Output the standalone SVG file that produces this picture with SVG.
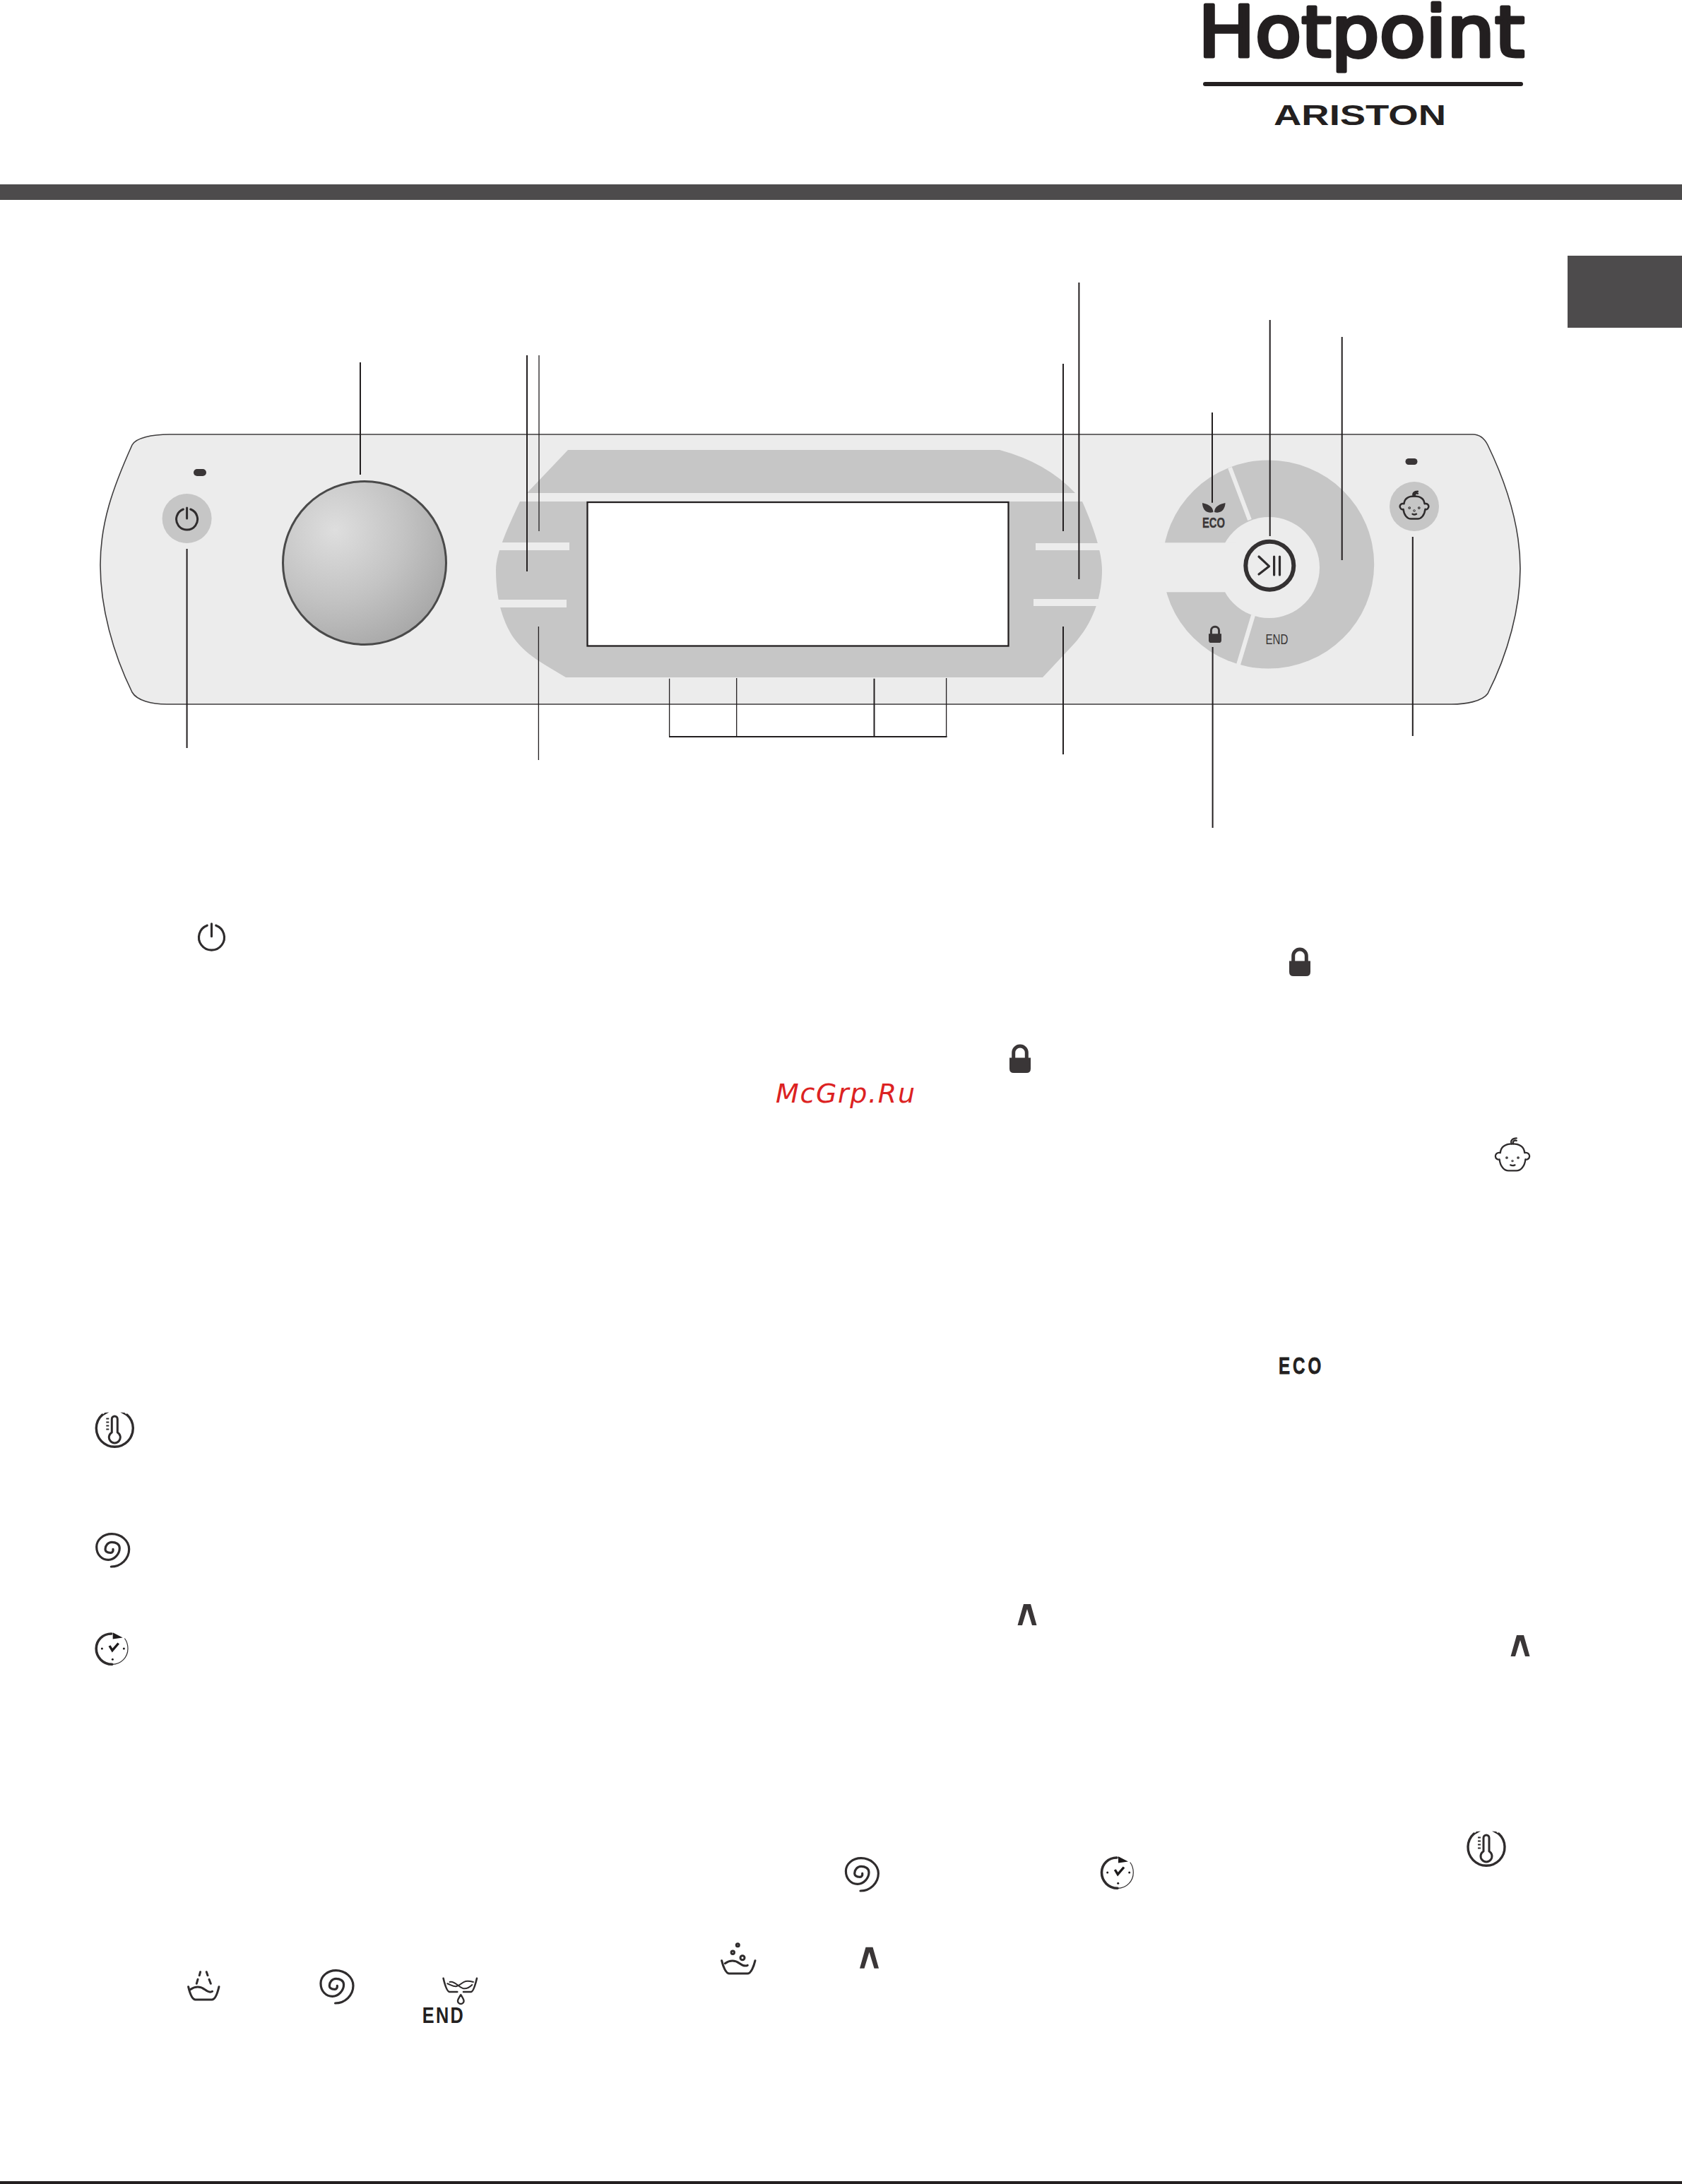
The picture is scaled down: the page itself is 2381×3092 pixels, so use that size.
<svg xmlns="http://www.w3.org/2000/svg" width="2381" height="3092" viewBox="0 0 2381 3092">
<style>
.lead{stroke:#231f20;stroke-width:2;fill:none}
.thin{stroke:#231f20;stroke-width:1.3;fill:none}
.ic{stroke:#2f2c2d;fill:none;stroke-linecap:round;stroke-linejoin:round}
.bar{fill:#ececec}
.grey{fill:#c6c6c6}
.dark{fill:#3a3637}
text{font-family:"Liberation Sans",Arial,sans-serif}
</style>
<defs>
<radialGradient id="knob" cx="0.32" cy="0.3" r="0.85"><stop offset="0" stop-color="#dedede"/><stop offset="0.5" stop-color="#c3c3c3"/><stop offset="1" stop-color="#a2a2a2"/></radialGradient>
<g id="spiral"><path class="ic" stroke-width="3.2" d="M-1.7 23C12 23 23.7 12 23.7-1.7C23.7-14 12-23.3-.7-23.3C-13-23.3-22.3-15-22.3-5C-22.3 6-15 13.3-5.7 13.3C3 13.3 10.3 5 10.3-3.3C10.3-9 5-11.7-.7-11.7C-6-11.7-10-7-10-1.7C-10 2-6 3.3-2.3 3.3C0 3.3 1.5 1 1-1.7"/></g>
<g id="clock"><path class="ic" stroke-width="3.6" d="M0 22.3C-13 22.3-22.5 12-22.5 0C-22.5-12-13-21-1-21"/><path class="ic" stroke-width="1.2" d="M0 22.3C13 22.3 22.3 12 22.3 0C22.3-5 21-10 18-14"/><polygon points="1,-22.7 15,-15.5 1,-13.5" fill="#1d1a1b"/><circle cx="-14.3" r="1.5" fill="#1d1a1b"/><circle cx="16.7" r="1.5" fill="#1d1a1b"/><circle cx="0.7" cy="15.3" r="1.5" fill="#1d1a1b"/><path d="M-3.7-4L.3 2.7L9-7.5" fill="none" stroke="#1d1a1b" stroke-width="3.4"/></g>
<g id="thermo"><path class="ic" stroke-width="3.4" d="M-17.5-21A26 26 0 1 0 17.5-21"/><polygon points="-21,-17 -14,-24 -8,-24.5" fill="#2f2c2d"/><polygon points="21,-17 14,-24 8,-24.5" fill="#2f2c2d"/><path class="ic" stroke-width="3" d="M-4 4V-15A4 4 0 0 1 4-15V4A8 8 0 1 1-4 4Z"/><path stroke="#2f2c2d" stroke-width="2.2" d="M-12-15.5h4M-12-10.5h4M-12-5.5h4M-12-.5h4" fill="none"/></g>
<g id="lock"><path d="M-9.3 0V-8.7A9.3 9.3 0 0 1 9.3-8.7V0" fill="none" stroke="#3a3637" stroke-width="5"/><path class="dark" d="M-15-1.4H15V14Q15 20 9 20H-9Q-15 20-15 14Z"/></g>
<polygon id="up" class="dark" points="-13.5,15 -5,-15 5,-15 13.5,15 7,15 0,-8 -7,15"/>
<path id="power" class="ic" d="M-5.2-14A15 15 0 1 0 5.2-14M0-16V-1"/>
<g id="baby" class="ic"><path d="M-15-6C-14-15-7-17 0-17C7-17 14-15 15-6C19-7 21-4 21-2C21 1 18 3 16 2C15 11 10 16 5 16H-5C-10 16-15 11-16 2C-18 3-21 1-21-2C-21-4-19-7-15-6Z"/><path d="M-1-17C-3-21 0-24 5-24M1-17C0-20 2-22 5-21"/><path d="M-2.5 9Q0 10.5 3 9"/><circle cx="-7" cy="0" r=".6"/><circle cx="7" cy="0" r=".6"/><circle cy="4" r=".5"/></g>
</defs>
<rect width="2381" height="3092" fill="#fff"/>
<g id="logo">
<text x="1696" y="79.5" font-size="100" textLength="462" lengthAdjust="spacingAndGlyphs" style="font-family:'DejaVu Sans',sans-serif" fill="#231f20" stroke="#231f20" stroke-width="5" stroke-linejoin="round">Hotpoint</text>
<rect x="1703" y="116" width="453" height="6" rx="3" fill="#231f20"/>
<text x="1803" y="177" font-size="40" font-weight="700" textLength="244" lengthAdjust="spacingAndGlyphs" fill="#231f20">ARISTON</text>
</g>
<rect id="top-bar" x="0" y="261" width="2381" height="22" fill="#4d4b4c"/>
<rect id="tab" x="2219" y="362" width="162" height="102" fill="#4d4b4c"/>
<rect id="bottom-line" x="0" y="3088" width="2381" height="4" fill="#231f20"/>
<g id="panel">
<path fill="#ececec" stroke="#3f3d3e" stroke-width="1.6" d="M240 615H2085C2095 615 2102 622 2106 630C2135 690 2152 750 2152 805C2152 860 2135 925 2106 982C2098 993 2075 997 2055 997H236C215 997 194 992 187 980C160 925 142 860 142 800C142 740 160 690 187 630C192 620 215 615 240 615Z"/>
</g>
<g id="power-button">
<rect x="274" y="664" width="18" height="10" rx="5" class="dark"/>
<circle cx="264.6" cy="734" r="35" class="grey"/>
<use href="#power" x="264.6" y="735" stroke-width="3"/>
</g>
<g id="knob-node"><circle cx="516" cy="797" r="115.5" fill="url(#knob)" stroke="#4a4a4a" stroke-width="3"/></g>
<g id="display">
<path class="grey" d="M804 637H1415Q1482 655 1522 698L1532 710C1550 750 1560 785 1560 807C1560 840 1550 880 1519 913L1476 959H801C770 940 745 928 727 903C715 885 702 855 702 807C702 785 715 755 736 710L746 698Z"/>
<rect class="bar" x="730" y="698" width="807" height="12"/>
<rect class="bar" x="700" y="768" width="106" height="11"/>
<rect class="bar" x="700" y="849" width="102" height="11"/>
<rect class="bar" x="1466" y="769" width="100" height="10"/>
<rect class="bar" x="1463" y="848" width="100" height="10"/>
<rect x="831.5" y="711" width="596" height="203.5" fill="#fff" stroke="#231f20" stroke-width="2.3"/>
</g>
<g id="wheel">
<ellipse cx="1795.5" cy="799" rx="149.7" ry="147.5" class="grey"/>
<circle cx="1796.5" cy="803.5" r="71.5" class="bar"/>
<rect class="bar" x="1640" y="768.3" width="110" height="70"/>
<path d="M1741 662L1769 736M1753 941L1774 871" stroke="#ececec" stroke-width="6" fill="none"/>
<circle cx="1797.3" cy="800.7" r="34" fill="#ececec" stroke="#343132" stroke-width="6"/>
<path class="ic" stroke-width="3.2" d="M1782 788L1796.5 801.7L1782 813M1803.6 788V814M1811.5 788V814"/>
<path class="dark" d="M1702 712C1709 714 1717 716 1717.5 725C1707 728 1702 720 1702 712ZM1734.5 712C1727 714 1719.5 716 1719 725C1729 728 1734.5 720 1734.5 712Z"/>
<text x="1702" y="746.5" font-size="21" font-weight="700" textLength="32" lengthAdjust="spacingAndGlyphs" fill="#3a3637" stroke="#3a3637" stroke-width=".4">ECO</text>
<text x="1791.5" y="912" font-size="21" textLength="32" lengthAdjust="spacingAndGlyphs" fill="#3a3637">END</text>
<use href="#lock" transform="translate(1720,898) scale(.6)"/>
</g>
<g id="baby-button">
<rect x="1989.5" y="649" width="17" height="9" rx="4.5" class="dark"/>
<circle cx="2002" cy="717" r="35" class="grey"/>
<use href="#baby" transform="translate(2002,719) scale(.97)" stroke-width="2.6"/>
</g>
<g id="connectors">
<path class="lead" d="M510 513V672M746 503V809M264.6 777V1059"/>
<path class="thin" d="M763 503V752M762.4 887V1076M947.6 960.7V1043M1042.7 960V1043M1339.6 960V1043"/>
<path class="lead" d="M1505 515V752M1527.4 400V820M1505 887V1068M1237.5 960.7V1043M947 1043H1340.5M1716 584V711.7M1797.7 453V759M1899.7 477V793M1716.6 916V1172M1999.8 760V1042"/>
</g>
<g id="icons">
<use href="#power" transform="translate(299.5,1327) scale(1.2)" stroke-width="2.6"/>
<use href="#lock" x="1840" y="1362"/>
<use href="#lock" x="1444" y="1499"/>
<text x="1098" y="1560.7" font-size="38" textLength="197" font-style="italic" style="font-family:'DejaVu Sans',sans-serif" fill="#dc2222">McGrp.Ru</text>
<use href="#baby" transform="translate(2141,1639) scale(1.15)" stroke-width="2"/>
<text transform="translate(1810,1945) scale(.72,1)" font-size="33.5" font-weight="700" letter-spacing="5.5" fill="#231f20" stroke="#231f20" stroke-width=".8">ECO</text>
<use href="#thermo" x="162.3" y="2024"/>
<use href="#thermo" x="2104" y="2617"/>
<use href="#spiral" x="159" y="2195"/>
<use href="#spiral" x="1219.7" y="2654"/>
<use href="#spiral" x="476.3" y="2813"/>
<use href="#clock" x="158.7" y="2334"/>
<use href="#clock" x="1582" y="2651"/>
<use href="#up" x="1454" y="2286"/>
<use href="#up" x="2152" y="2330"/>
<use href="#up" x="1230.5" y="2771.7"/>
<g id="basin-rinse" transform="translate(288.3,2820)" class="ic" stroke-width="3"><path d="M-21.7-7.3C-20 0-16.7 11-11.7 11H11.7C16.7 11 20 0 21.7-7.3"/><path d="M-19-3.3C-11.7-8.3-5-8.3 1.7-3.3C6.7.7 10 .7 12.3-.7"/><path d="M-4.7-28.3L-6-23.3M-8.3-17.7L-10-11.7M4-28.3L5.7-23.3M7.7-17.7L10-11.7"/></g>
<g id="basin-wash" transform="translate(1045.3,2783)" class="ic" stroke-width="3"><path d="M-23.7-7.3C-22 0-18 11-13 11H13C18 11 22 0 23.7-7.3"/><path d="M-19-3.3C-12-8.3-5-8.3 1.7-3.3C7 .7 10 .7 13-.7"/><circle cx="-1" cy="-29.3" r="2"/><circle cx="-8" cy="-18.7" r="2.2"/><circle cx="5.7" cy="-11.3" r="3"/></g>
<g id="basin-end" transform="translate(651.3,2810)" class="ic" stroke-width="2.6"><path d="M-23.7-9.3C-22-2-19 10-14.7 10H-4M4.7 10H15.3C19 10 22-2 23.7-9.3"/><path stroke-width="2" d="M-18-1.7C-13 0-9 3-5 2C0 1 3-4 8-5C12-5.5 15-5 18.7-4M-14.7-4C-8-6-2 3 4 5C9 6 14 3 17 0"/><path stroke-width="2.4" d="M1 14C-2 19-3.3 21-3.3 22.7A4.3 4.3 0 0 0 5.3 22.7C5.3 21 4 19 1 14Z"/></g>
<text transform="translate(597.7,2864.3) scale(.8,1)" font-size="31.6" font-weight="700" letter-spacing="3" fill="#231f20">END</text>
</g>
</svg>
